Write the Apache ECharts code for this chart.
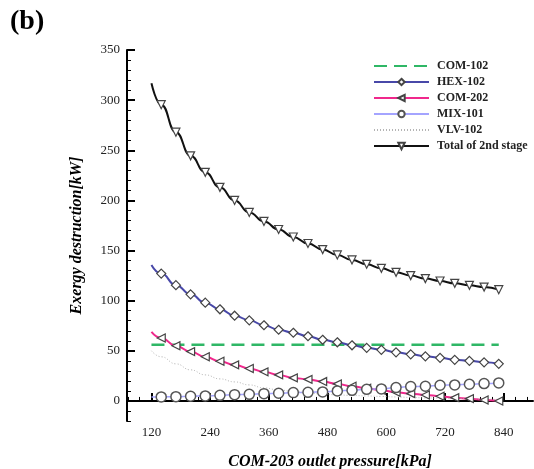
<!DOCTYPE html>
<html>
<head>
<meta charset="utf-8">
<script src="https://cdn.jsdelivr.net/npm/echarts@6/dist/echarts.min.js"></script>
<style>
  html, body { margin: 0; padding: 0; background: #fff; }
  #chart { width: 534px; height: 469px; }
</style>
</head>
<body>
<div id="chart"></div>
<script>
// COM-203 outlet pressure [kPa]
const pressure = [120, 140, 170, 200, 230, 260, 290, 320, 350, 380, 410, 440, 470, 500,
  530, 560, 590, 620, 650, 680, 710, 740, 770, 800, 830];

// exergy destruction [kW]
const com102 = [56, 56, 56, 56, 56, 56, 56, 56, 56, 56, 56, 56, 56, 56,
  56, 56, 56, 56, 56, 56, 56, 56, 56, 56, 56];
const hex102 = [135.6, 127, 115.5, 106.3, 98, 91.4, 85, 80.4, 75.5, 71, 68, 64.5, 61, 58.5,
  55.5, 53, 51, 48.5, 46.5, 44.5, 43, 41, 40, 38.5, 37];
const com202 = [68.8, 62.8, 55, 49.2, 44, 39.6, 36, 32.3, 29, 26, 23, 21.5, 19.3, 17,
  14.6, 12.6, 10.6, 8.6, 7.3, 6, 4.7, 3.3, 2.3, 1, 0];
const mix101 = [4, 4, 4.3, 4.7, 5, 5.6, 6.3, 6.6, 7.3, 7.7, 8.3, 8.6, 9, 10,
  10.6, 11.6, 12, 13.3, 14.3, 14.6, 15.6, 16, 16.6, 17.3, 18];
const vlv102 = [50, 44, 37, 31, 26, 22, 19, 16, 13, 11, 9.5, 8, 7, 6,
  5.5, 5, 4.5, 4, 3.5, 3, 2.7, 2.4, 2.1, 1.8, 1.5];
const total2nd = [316.8, 295.5, 268, 244.5, 228, 213, 200, 188, 179, 171, 163.5, 157, 151, 145.6,
  140.6, 136.3, 132.3, 128.3, 125, 122, 119.6, 117.3, 115.3, 113.6, 111];

const xTicks = [120, 240, 360, 480, 600, 720, 840];
const xMinorTicks = [72, 96, 144, 168, 192, 216, 264, 288, 312, 336, 384, 408, 432, 456,
  504, 528, 552, 576, 624, 648, 672, 696, 744, 768, 792, 816, 864, 888];
const yTicks = [0, 50, 100, 150, 200, 250, 300, 350];
const yMinorTicks = [-20, -10, 10, 20, 30, 40, 60, 70, 80, 90, 110, 120, 130, 140, 160, 170,
  180, 190, 210, 220, 230, 240, 260, 270, 280, 290, 310, 320, 330, 340];

const serif = '"Liberation Serif", "DejaVu Serif", serif';

function points(values, withSymbol) {
  return values.map((v, i) => {
    const item = { value: [pressure[i], v] };
    if (!withSymbol || i === 0) item.symbol = 'none';
    return item;
  });
}

const markerStyle = { color: '#fff', borderColor: '#444', borderWidth: 1.2 };

const chart = echarts.init(document.getElementById('chart'));

chart.setOption({
  animation: false,
  backgroundColor: '#fff',
  title: {
    text: '(b)',
    left: 5,
    top: 3,
    textStyle: { fontFamily: serif, fontWeight: 'bold', fontSize: 28, color: '#000' }
  },
  legend: {
    orient: 'vertical',
    left: 373,
    top: 60,
    padding: 0,
    itemWidth: 55,
    itemHeight: 8,
    itemGap: 4,
    textStyle: { fontFamily: serif, fontWeight: 'bold', fontSize: 12, color: '#222', padding: [0, 0, 0, 3] },
    data: [
      { name: 'COM-102', itemStyle: { opacity: 0 } },
      'HEX-102',
      'COM-202',
      'MIX-101',
      { name: 'VLV-102', itemStyle: { opacity: 0 } },
      'Total of 2nd stage'
    ]
  },
  grid: { left: 127, right: 1, top: 50, bottom: 48, outerBoundsMode: 'none' },
  xAxis: [
    {
      type: 'value',
      min: 70,
      max: 900,
      name: 'COM-203 outlet pressure[kPa]',
      nameLocation: 'middle',
      nameGap: 33,
      nameTextStyle: { fontFamily: serif, fontWeight: 'bold', fontStyle: 'italic', fontSize: 16, color: '#000' },
      axisLine: { lineStyle: { color: '#000', width: 2 } },
      axisTick: { inside: true, length: 8, customValues: xTicks, lineStyle: { color: '#000', width: 2 } },
      axisLabel: { customValues: xTicks, fontFamily: serif, fontSize: 13, color: '#222', margin: 5 },
      splitLine: { show: false }
    },
    {
      type: 'value',
      min: 70,
      max: 900,
      position: 'bottom',
      axisLine: { show: false },
      axisTick: { inside: true, length: 4, customValues: xMinorTicks, lineStyle: { color: '#000', width: 1 } },
      axisLabel: { show: false },
      splitLine: { show: false }
    }
  ],
  yAxis: [
    {
      type: 'value',
      min: -20,
      max: 350,
      name: 'Exergy destruction[kW]',
      nameLocation: 'middle',
      nameGap: 42,
      nameTextStyle: { fontFamily: serif, fontWeight: 'bold', fontStyle: 'italic', fontSize: 16, color: '#000' },
      axisLine: { show: true, lineStyle: { color: '#000', width: 2 } },
      axisTick: { show: true, inside: true, length: 8, customValues: yTicks, lineStyle: { color: '#000', width: 2 } },
      axisLabel: { customValues: yTicks, fontFamily: serif, fontSize: 13, color: '#222', margin: 7 },
      splitLine: { show: false }
    },
    {
      type: 'value',
      min: -20,
      max: 350,
      position: 'left',
      axisLine: { show: false },
      axisTick: { show: true, inside: true, length: 4, customValues: yMinorTicks, lineStyle: { color: '#000', width: 1 } },
      axisLabel: { show: false },
      splitLine: { show: false }
    }
  ],
  series: [
    {
      name: 'COM-102',
      type: 'line',
      data: points(com102, false),
      symbol: 'none',
      lineStyle: { color: '#2fb766', width: 2.5, type: [13, 7] },
      itemStyle: { color: '#2fb766' }
    },
    {
      name: 'HEX-102',
      type: 'line',
      data: points(hex102, true),
      smooth: true,
      smoothMonotone: 'x',
      symbol: 'diamond',
      symbolSize: 9,
      lineStyle: { color: '#4848a8', width: 2 },
      itemStyle: markerStyle
    },
    {
      name: 'COM-202',
      type: 'line',
      data: points(com202, true),
      smooth: true,
      smoothMonotone: 'x',
      symbol: 'triangle',
      symbolRotate: 90,
      symbolSize: 8,
      lineStyle: { color: '#f0288c', width: 2 },
      itemStyle: markerStyle
    },
    {
      name: 'MIX-101',
      type: 'line',
      data: points(mix101, true),
      smooth: true,
      smoothMonotone: 'x',
      symbol: 'circle',
      symbolSize: 10,
      lineStyle: { color: '#a4a4ff', width: 1.5 },
      itemStyle: { color: '#fff', borderColor: '#555', borderWidth: 1.5 }
    },
    {
      name: 'VLV-102',
      type: 'line',
      data: points(vlv102, false),
      smooth: true,
      smoothMonotone: 'x',
      symbol: 'none',
      lineStyle: { color: '#b4b4b4', width: 1, type: [1, 2] },
      itemStyle: { color: '#b4b4b4' }
    },
    {
      name: 'Total of 2nd stage',
      type: 'line',
      data: points(total2nd, true),
      smooth: true,
      smoothMonotone: 'x',
      symbol: 'triangle',
      symbolRotate: 180,
      symbolSize: 8,
      lineStyle: { color: '#111', width: 2 },
      itemStyle: markerStyle
    }
  ]
});
</script>
</body>
</html>
